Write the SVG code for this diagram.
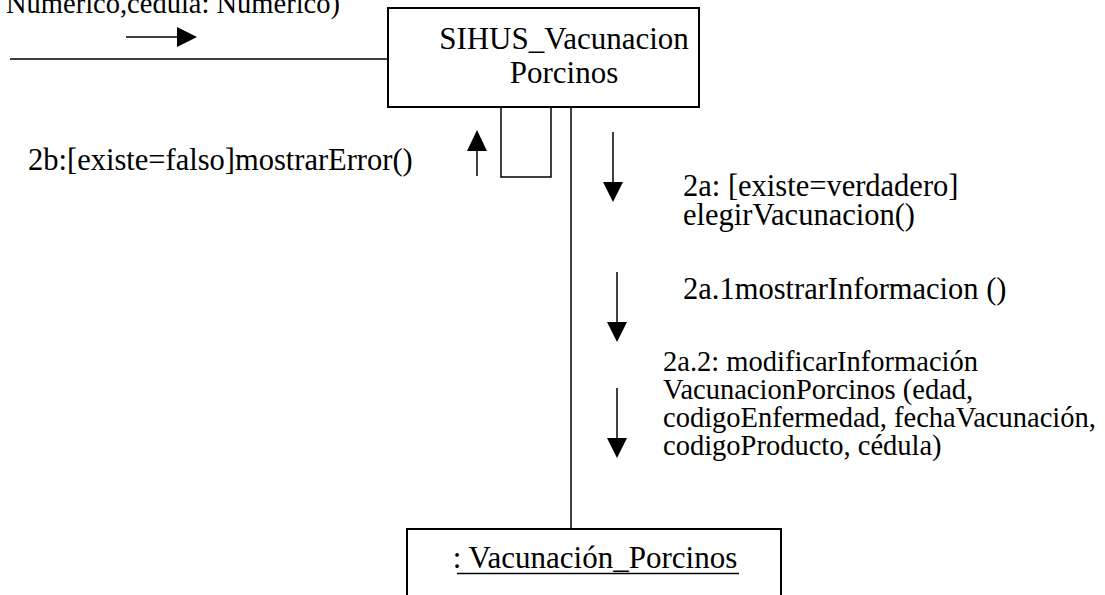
<svg xmlns="http://www.w3.org/2000/svg" width="1105" height="595" viewBox="0 0 1105 595">
<style>
.ln{stroke:#000;stroke-width:1.5;fill:none}
.bx{stroke:#000;stroke-width:2;fill:#fff}
.t{font-family:"Liberation Serif","Times New Roman",serif;font-size:30.5px;fill:#000}
.ts{font-family:"Liberation Serif","Times New Roman",serif;font-size:28.5px;fill:#000}
.tb{font-family:"Liberation Serif","Times New Roman",serif;font-size:31px;fill:#000}
.ah{fill:#000;stroke:none}
</style>
<g id="connectors">
<line class="ln" x1="10" y1="59" x2="388" y2="59"/>
<line class="ln" x1="571" y1="107" x2="571" y2="529"/>
<polyline class="ln" points="501,107 501,177 551,177 551,107"/>
<g id="arrow-call">
<line class="ln" x1="126" y1="37" x2="178" y2="37"/>
<polygon class="ah" points="177,27 197,37 177,47"/>
</g>
<g id="arrow-2b">
<line class="ln" x1="477" y1="150" x2="477" y2="176"/>
<polygon class="ah" points="467,151 477,130 487,151"/>
</g>
<g id="arrow-2a">
<line class="ln" x1="613" y1="132" x2="613" y2="183"/>
<polygon class="ah" points="603,182 623,182 613,202"/>
</g>
<g id="arrow-2a1">
<line class="ln" x1="617" y1="272" x2="617" y2="323"/>
<polygon class="ah" points="607,322 627,322 617,342"/>
</g>
<g id="arrow-2a2">
<line class="ln" x1="617" y1="388" x2="617" y2="439"/>
<polygon class="ah" points="607,438 627,438 617,458"/>
</g>
</g>
<g id="node-sihus">
<rect class="bx" x="388" y="8" width="311" height="99"/>
<text class="tb" x="564" y="49" text-anchor="middle">SIHUS_Vacunacion</text>
<text class="tb" x="564" y="83" text-anchor="middle">Porcinos</text>
</g>
<g id="node-vacunacion">
<rect class="bx" x="407" y="529" width="374" height="80"/>
<text class="tb" x="595" y="568" text-anchor="middle">: Vacunación_Porcinos</text>
<line x1="457" y1="573.5" x2="739" y2="573.5" stroke="#000" stroke-width="1.5"/>
</g>
<g id="labels">
<text class="ts" x="6" y="13">Numerico,cedula: Numerico)</text>
<text class="t" x="28" y="170">2b:[existe=falso]mostrarError()</text>
<text class="t"><tspan x="683" y="196">2a: [existe=verdadero]</tspan><tspan x="683" y="225">elegirVacunacion()</tspan></text>
<text class="t" x="683" y="299">2a.1mostrarInformacion ()</text>
<text class="ts"><tspan x="663" y="371">2a.2: modificarInformación</tspan><tspan x="663" y="399">VacunacionPorcinos (edad,</tspan><tspan x="663" y="427">codigoEnfermedad, fechaVacunación,</tspan><tspan x="663" y="455">codigoProducto, cédula)</tspan></text>
</g>
</svg>
